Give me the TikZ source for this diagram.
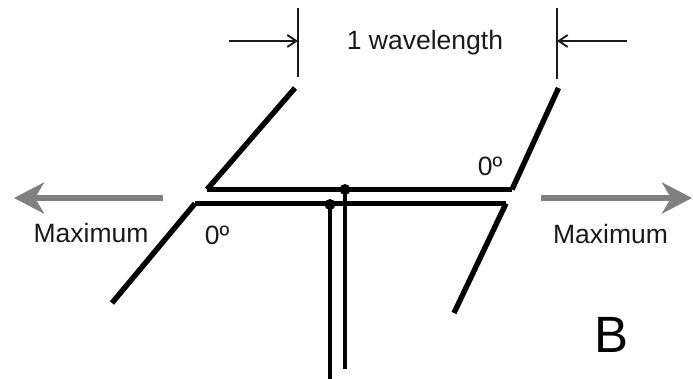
\documentclass[tikz,border=0pt]{standalone}
\usepackage{fontspec}
\setmainfont{Liberation Sans}
\usetikzlibrary{arrows.meta,calc}
\definecolor{gris}{HTML}{808080}
\definecolor{tinta}{HTML}{1A1A1A}
\tikzset{
  dipolo/.style={line width=5.4pt,black,line join=miter},
  brazo/.style={line width=4.2pt,black},
  linea/.style={line width=4.2pt,black},
  punto/.style={circle,fill=black,inner sep=0pt,minimum size=11pt},
  cota/.style={line width=1.9pt,tinta},
  flechacota/.style={-{Straight Barb[length=9pt,width=12pt,line width=1.9pt]},line width=1.9pt,tinta},
  flechagris/.style={-{Stealth[length=30pt,width=31pt,inset=9pt]},line width=5.7pt,gris},
  etiqueta/.style={font=\fontsize{26.5}{28}\selectfont,text=tinta,inner sep=0pt,anchor=base},
}
\begin{document}
\begin{tikzpicture}[x=1pt,y=-1pt]
  \useasboundingbox (0,0) rectangle (693,379);
  % upper dipole
  \coordinate (ua) at (295,88);
  \coordinate (ub) at (207,189.5);
  \coordinate (uc) at (512,189.5);
  \coordinate (ud) at (558.5,88);
  \draw[dipolo] (ua) -- (ub);
  \draw[brazo] (ub) -- (uc);
  \draw[dipolo] (uc) -- (ud);
  % lower dipole
  \coordinate (la) at (112,303);
  \coordinate (lb) at (195,203.5);
  \coordinate (lc) at (506,203.5);
  \coordinate (ld) at (454,313);
  \draw[dipolo] (la) -- (lb);
  \draw[brazo] (lb) -- (lc);
  \draw[dipolo] (lc) -- (ld);
  % feed line
  \node[punto] (p1) at (345,189.5) {};
  \node[punto] (p2) at (330,204.5) {};
  \coordinate (f1) at (345,369);
  \coordinate (f2) at (330,379);
  \draw[linea] (p1.center) -- (f1);
  \draw[linea] (p2.center) -- (f2);
  % wavelength
  \coordinate (t1) at (298,8);
  \coordinate (b1) at (298,77);
  \coordinate (t2) at (557,8);
  \coordinate (b2) at (557,79);
  \coordinate (a1) at (229,41);
  \coordinate (a2) at (627,41);
  \draw[cota] (t1) -- (b1);
  \draw[cota] (t2) -- (b2);
  \draw[flechacota] (a1) -- (a1 -| t1);
  \draw[flechacota] (a2) -- (a2 -| t2);
  \node[etiqueta] (wave) at (425,50) {1 wavelength};
  % maximum
  \coordinate (g1) at (163,198);
  \coordinate (g2) at (14,198);
  \coordinate (g3) at (541,198);
  \coordinate (g4) at (692,198);
  \draw[flechagris] (g1) -- (g2);
  \draw[flechagris] (g3) -- (g4);
  \node[etiqueta] (maxL) at (91,243) {Maximum};
  \node[etiqueta] (maxR) at (610.5,243.5) {Maximum};
  \node[etiqueta] (ceroL) at (217,245) {0º};
  \node[etiqueta] (ceroR) at (490,176) {0º};
  \node[etiqueta,font=\fontsize{51}{53}\selectfont,text=black] (letra) at (612,352) {B};
\end{tikzpicture}
\end{document}
